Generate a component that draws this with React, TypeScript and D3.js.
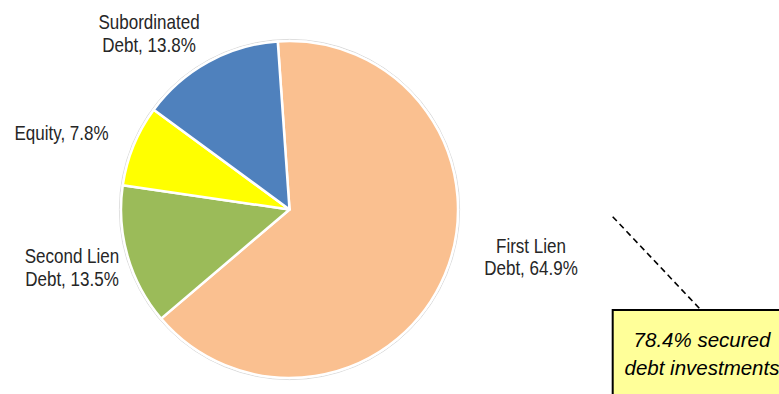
import React from "react";
import * as d3 from "d3";

const categories = ["First Lien Debt", "Second Lien Debt", "Equity", "Subordinated Debt"];
const values = [64.9, 13.5, 7.8, 13.8];
const labelLines = [
  ["First Lien", "Debt, 64.9%"],
  ["Second Lien", "Debt, 13.5%"],
  ["Equity, 7.8%"],
  ["Subordinated", "Debt, 13.8%"],
];
const colors = ["#FAC090", "#9BBB59", "#FFFF00", "#4F81BD"];
const calloutLines = ["78.4% secured", "debt investments"];

const W = 779;
const H = 394;
const cx = 289.5;
const cy = 209.5;
const R = 168.5;
const startDeg = -4;
const FONT = "'Liberation Sans', Arial, sans-serif";
const NARROW = 0.83;

// label anchor positions (center x, first baseline y)
const labelPos: [number, number][] = [
  [531, 252.5],
  [72, 263],
  [61.5, 140],
  [149, 29],
];

export default function App() {
  const pie = d3
    .pie<number>()
    .sort(null)
    .value((d) => d)
    .startAngle((startDeg * Math.PI) / 180)
    .endAngle(((startDeg + 360) * Math.PI) / 180);
  const arcs = pie(values);
  const arcGen = d3.arc<d3.PieArcDatum<number>>().innerRadius(0).outerRadius(R);

  return (
    <svg width={W} height={H} style={{ position: "absolute", left: 0, top: 0 }}>
      <rect width={W} height={H} fill="#fff" />
      <circle cx={cx} cy={cy} r={R + 1.6} fill="none" stroke="#d9d9d9" strokeWidth={1} />
      <g transform={`translate(${cx},${cy})`}>
        {arcs.map((a, i) => (
          <path key={categories[i]} d={arcGen(a) || ""} fill={colors[i]} stroke="#fff" strokeWidth={2.5} strokeLinejoin="round" />
        ))}
      </g>
      {labelLines.map((lines, i) => (
        <text
          key={i}
          transform={`translate(${labelPos[i][0]},${labelPos[i][1]}) scale(${NARROW},1)`}
          textAnchor="middle"
          fontFamily={FONT}
          fontSize={20.5}
          fill="#262626"
        >
          {lines.map((l, j) => (
            <tspan key={j} x={0} dy={j === 0 ? 0 : 23}>
              {l}
            </tspan>
          ))}
        </text>
      ))}
      <line x1={612.7} y1={216.7} x2={700} y2={309} stroke="#000" strokeWidth={1.6} strokeDasharray="6,4" />
      <rect x={612.7} y={310} width={180} height={100} fill="#FFFF99" stroke="#000" strokeWidth={2} />
      {calloutLines.map((l, j) => (
        <text key={l} x={702} y={347 + j * 28} textAnchor="middle" fontFamily={FONT} fontSize={20.5} fontStyle="italic" fill="#000">
          {l}
        </text>
      ))}
    </svg>
  );
}
